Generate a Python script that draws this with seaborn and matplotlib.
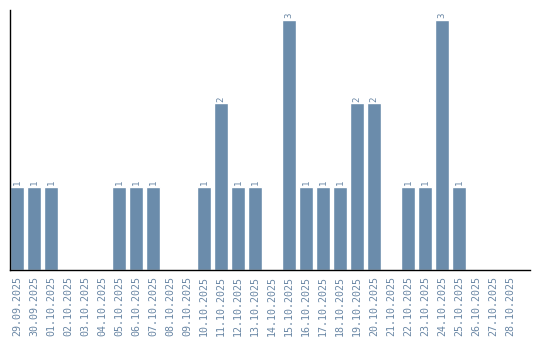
import matplotlib
matplotlib.use("Agg")
import matplotlib.pyplot as plt
import seaborn as sns
import pandas as pd

dates = ["29.09.2025", "30.09.2025", "01.10.2025", "02.10.2025", "03.10.2025",
         "04.10.2025", "05.10.2025", "06.10.2025", "07.10.2025", "08.10.2025",
         "09.10.2025", "10.10.2025", "11.10.2025", "12.10.2025", "13.10.2025",
         "14.10.2025", "15.10.2025", "16.10.2025", "17.10.2025", "18.10.2025",
         "19.10.2025", "20.10.2025", "21.10.2025", "22.10.2025", "23.10.2025",
         "24.10.2025", "25.10.2025", "26.10.2025", "27.10.2025", "28.10.2025"]
counts = [1, 1, 1, 0, 0, 0, 1, 1, 1, 0, 0, 1, 2, 1, 1, 0, 3, 1, 1, 1,
          2, 2, 0, 1, 1, 3, 1, 0, 0, 0]

sns.set_style("white")
color = "#6b8cab"
label_color = "#6a87a5"

df = pd.DataFrame({"date": dates, "count": counts})
fig = plt.figure(figsize=(5.4, 3.4), dpi=100)
ax = fig.add_axes([10 / 540, 70 / 340, 520 / 540, 260 / 340])
sns.barplot(data=df, x="date", y="count", color=color, width=0.82,
            saturation=1, ax=ax)
ax.set_ylim(0, 3 * 260 / 250)
ax.set_xlim(-0.41, -0.41 + 520 / 17)
for i, v in enumerate(counts):
    if v > 0:
        ax.text(i, v + 0.02, str(v), rotation=90, ha="center", va="bottom",
                fontsize=6.5, color=label_color, family="DejaVu Sans Mono")
ax.set_yticks([])
ax.set_xlabel("")
ax.set_ylabel("")
ax.tick_params(axis="x", length=0, pad=4)
for lbl in ax.get_xticklabels():
    lbl.set_rotation(90)
    lbl.set_fontsize(7.2)
    lbl.set_color(label_color)
    lbl.set_family("DejaVu Sans Mono")
for s in ["top", "right"]:
    ax.spines[s].set_visible(False)
for s in ["left", "bottom"]:
    ax.spines[s].set_visible(True)
    ax.spines[s].set_color("black")
    ax.spines[s].set_linewidth(1)
fig.savefig("out.png", dpi=100)
